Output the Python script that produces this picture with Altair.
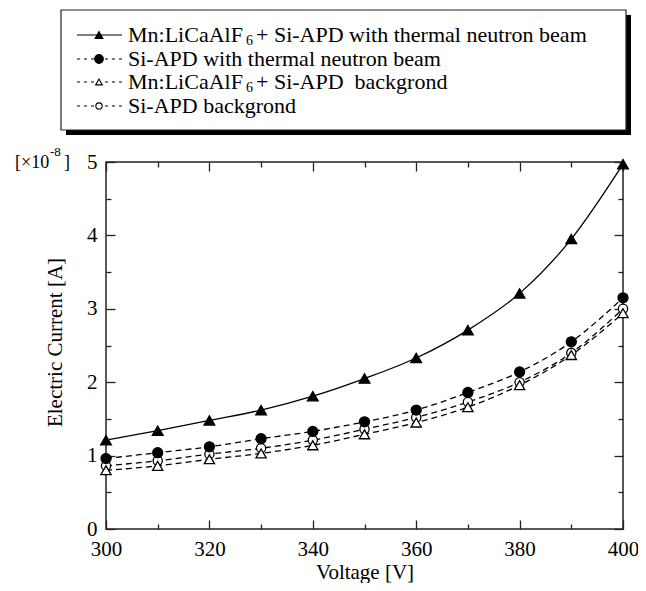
import altair as alt
import pandas as pd

FONT = "Liberation Serif"

voltage = [300, 310, 320, 330, 340, 350, 360, 370, 380, 390, 400]
mn_beam = [1.21, 1.34, 1.48, 1.62, 1.81, 2.05, 2.33, 2.71, 3.21, 3.95, 4.97]
si_beam = [0.96, 1.04, 1.12, 1.23, 1.33, 1.46, 1.62, 1.86, 2.14, 2.55, 3.15]
mn_bg = [0.80, 0.86, 0.95, 1.03, 1.14, 1.29, 1.45, 1.66, 1.96, 2.37, 2.94]
si_bg = [0.86, 0.93, 1.02, 1.10, 1.21, 1.36, 1.52, 1.73, 2.00, 2.40, 3.00]

x_major = [300, 320, 340, 360, 380, 400]
x_minor = [310, 330, 350, 370, 390]
y_major = [0, 1, 2, 3, 4, 5]
y_minor = [0.5, 1.5, 2.5, 3.5, 4.5]

legend_texts = [
    ("Mn:LiCaAlF", "6", "+ Si-APD with thermal neutron beam"),
    ("Si-APD with thermal neutron beam", None, None),
    ("Mn:LiCaAlF", "6", "+ Si-APD\u00a0\u00a0backgrond"),
    ("Si-APD backgrond", None, None),
]

frames = []
for name, vals in [("mn_beam", mn_beam), ("si_beam", si_beam), ("mn_bg", mn_bg), ("si_bg", si_bg)]:
    frames.append(pd.DataFrame({"Voltage": voltage, "Current": vals, "Series": name}))
df = pd.concat(frames, ignore_index=True)
one = pd.DataFrame({"k": [0]})

xs = alt.Scale(domain=[300, 400], nice=False, zero=False)
ys = alt.Scale(domain=[0, 5], nice=False, zero=False)

common = dict(domain=False, grid=False, tickColor="#222", tickWidth=1.3)


def axis_layer(xaxis, yaxis):
    return alt.Chart(df).mark_point(opacity=0).encode(
        x=alt.X("Voltage:Q", scale=xs, axis=xaxis),
        y=alt.Y("Current:Q", scale=ys, axis=yaxis),
    )


layers = []
layers.append(axis_layer(
    alt.Axis(orient="bottom", values=x_major, tickSize=9, offset=-9, labelFont=FONT,
             labelFontSize=21, labelColor="black", labelPadding=9, labelFlush=False,
             labelOverlap=False, format="d", title="Voltage [V]", titleFont=FONT,
             titleFontSize=21, titleFontWeight="normal", titleColor="black",
             titleY=52, titleBaseline="middle", **common),
    alt.Axis(orient="left", values=y_major, tickSize=9, offset=-9, labelFont=FONT,
             labelFontSize=21, labelColor="black", labelPadding=9, format="d",
             title="Electric Current [A]", titleFont=FONT, titleFontSize=21,
             titleFontWeight="normal", titleColor="black", titleX=-60, titleY=180,
             titleAngle=270, titleAlign="center", titleBaseline="middle", **common),
))
layers.append(axis_layer(
    alt.Axis(orient="bottom", values=x_minor, tickSize=5, offset=-5, labels=False, title=None, **common),
    alt.Axis(orient="left", values=y_minor, tickSize=5, offset=-5, labels=False, title=None, **common),
))
layers.append(axis_layer(
    alt.Axis(orient="top", values=x_major, tickSize=9, offset=-9, labels=False, title=None, **common),
    alt.Axis(orient="right", values=y_major, tickSize=9, offset=-9, labels=False, title=None, **common),
))
layers.append(axis_layer(
    alt.Axis(orient="top", values=x_minor, tickSize=5, offset=-5, labels=False, title=None, **common),
    alt.Axis(orient="right", values=y_minor, tickSize=5, offset=-5, labels=False, title=None, **common),
))

styles = {
    "si_bg": dict(dash=[6, 4], shape="circle", filled=False, size=85),
    "mn_bg": dict(dash=[6, 4], shape="triangle-up", filled=False, size=105),
    "si_beam": dict(dash=[6, 4], shape="circle", filled=True, size=100),
    "mn_beam": dict(dash=None, shape="triangle-up", filled=True, size=115),
}

for name in ["si_bg", "mn_bg", "si_beam", "mn_beam"]:
    st = styles[name]
    sub = df[df["Series"] == name]
    line_kw = dict(interpolate="monotone", color="black", strokeWidth=1.3)
    if st["dash"]:
        line_kw["strokeDash"] = st["dash"]
    layers.append(alt.Chart(sub).mark_line(**line_kw).encode(
        x=alt.X("Voltage:Q", scale=xs, axis=None),
        y=alt.Y("Current:Q", scale=ys, axis=None),
    ))

for name in ["si_bg", "mn_bg", "si_beam", "mn_beam"]:
    st = styles[name]
    sub = df[df["Series"] == name]
    pkw = dict(shape=st["shape"], size=st["size"], opacity=1, stroke="black", strokeWidth=1.3,
               filled=True, fill="black" if st["filled"] else "white")
    layers.append(alt.Chart(sub).mark_point(**pkw).encode(
        x=alt.X("Voltage:Q", scale=xs, axis=None),
        y=alt.Y("Current:Q", scale=ys, axis=None),
    ))

# exponent label
layers.append(alt.Chart(one).mark_text(text="[×10", font=FONT, fontSize=18, align="left",
                                       baseline="middle", color="black").encode(
    x=alt.value(-91), y=alt.value(1)))
layers.append(alt.Chart(one).mark_text(text="-8", font=FONT, fontSize=13, align="left",
                                       baseline="middle", color="black").encode(
    x=alt.value(-56), y=alt.value(-10)))
layers.append(alt.Chart(one).mark_text(text="]", font=FONT, fontSize=18, align="left",
                                       baseline="middle", color="black").encode(
    x=alt.value(-42), y=alt.value(1)))

# legend box with shadow
layers.append(alt.Chart(one).mark_rect(color="black").encode(
    x=alt.value(-40), x2=alt.value(525), y=alt.value(-147), y2=alt.value(-27)))
layers.append(alt.Chart(one).mark_rect(fill="white", stroke="#222", strokeWidth=1.2).encode(
    x=alt.value(-45), x2=alt.value(520), y=alt.value(-152), y2=alt.value(-32)))

row_y = [-127, -103, -80, -56]
leg_style = [
    dict(dash=None, shape="triangle-up", filled=True, size=60),
    dict(dash=[3, 4], shape="circle", filled=True, size=75),
    dict(dash=[3, 4], shape="triangle-up", filled=False, size=45),
    dict(dash=[3, 4], shape="circle", filled=False, size=40),
]
for (t1, sub6, t2), yy, st in zip(legend_texts, row_y, leg_style):
    rkw = dict(color="black", strokeWidth=1.2)
    if st["dash"]:
        rkw["strokeDash"] = st["dash"]
    layers.append(alt.Chart(one).mark_rule(**rkw).encode(
        x=alt.value(-29), x2=alt.value(16), y=alt.value(yy)))
    layers.append(alt.Chart(one).mark_point(
        shape=st["shape"], size=st["size"], opacity=1, filled=True, stroke="black", strokeWidth=1.1,
        fill="black" if st["filled"] else "white").encode(x=alt.value(-7), y=alt.value(yy)))
    layers.append(alt.Chart(one).mark_text(text=t1, font=FONT, fontSize=22, align="left",
                                           baseline="middle", color="black").encode(
        x=alt.value(22), y=alt.value(yy)))
    if sub6:
        layers.append(alt.Chart(one).mark_text(text=sub6, font=FONT, fontSize=14, align="left",
                                               baseline="middle", color="black").encode(
            x=alt.value(140), y=alt.value(yy + 6)))
        layers.append(alt.Chart(one).mark_text(text=t2, font=FONT, fontSize=22, align="left",
                                               baseline="middle", color="black").encode(
            x=alt.value(150), y=alt.value(yy)))

chart = alt.layer(*layers).resolve_axis(x="independent", y="independent").properties(
    width=517, height=367,
    padding={"left": 98, "top": 154, "right": 15, "bottom": 54},
    autosize=alt.AutoSizeParams(type="none"),
    background="white",
).configure_view(stroke="#222", strokeWidth=1.5)

chart.save("out.html", embed_options={"renderer": "svg", "actions": False})
